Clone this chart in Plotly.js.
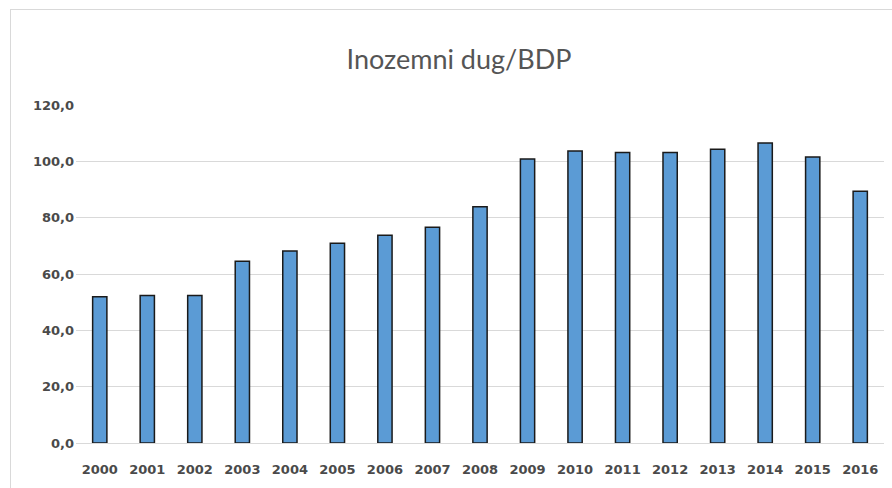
<!DOCTYPE html>
<html>
<head>
<meta charset="utf-8">
<script src="https://cdn.plot.ly/plotly-3.0.1.min.js"></script>
<style>
html,body{margin:0;padding:0;background:#fff;}
#wrap{position:relative;width:892px;height:488px;}
#chart{width:892px;height:488px;}
#frame{position:absolute;left:10px;top:9px;right:-2px;bottom:-2px;border-left:1px solid #d9d9d9;border-top:1px solid #d9d9d9;pointer-events:none;}
</style>
</head>
<body>
<div id="wrap"><div id="chart"></div><div id="frame"></div></div>
<script>
const years = ['2000','2001','2002','2003','2004','2005','2006','2007','2008','2009','2010','2011','2012','2013','2014','2015','2016'];
const values = [51.9, 52.4, 52.4, 64.5, 68.2, 70.9, 73.8, 76.6, 83.9, 100.8, 103.7, 103.1, 103.1, 104.3, 106.5, 101.5, 89.4];
const chartTitle = 'Inozemni dug/BDP';
const yTicks = [0, 20, 40, 60, 80, 100, 120];

const tickFont = {family: '"DejaVu Sans", sans-serif', size: 13, color: '#4a4a4a', weight: 'bold'};
Plotly.newPlot('chart', [{
  type: 'bar',
  x: years,
  y: values,
  marker: {color: '#5B9BD5', line: {color: '#1a1a1a', width: 1.5}},
  hoverinfo: 'x+y'
}], {
  width: 892, height: 488,
  margin: {l: 76, r: 8, t: 105, b: 45},
  paper_bgcolor: '#ffffff', plot_bgcolor: '#ffffff',
  separators: ',.',
  bargap: 0.7,
  showlegend: false,
  title: {text: chartTitle, x: 0.5146, xref: 'container', y: 0.877, yref: 'container', yanchor: 'middle',
          font: {family: 'Lato, "Open Sans", sans-serif', size: 27, color: '#555555'}},
  xaxis: {type: 'category', showgrid: false, showline: false, ticks: '', zeroline: false,
          ticklabelstandoff: 17,
          tickfont: tickFont},
  yaxis: {range: [0, 120], tickvals: yTicks, tickformat: '.1f', showgrid: true, gridcolor: '#d9d9d9', gridwidth: 1,
          zeroline: true, zerolinecolor: '#d9d9d9', zerolinewidth: 1, showline: false, ticks: '',
          ticklabelstandoff: 1,
          tickfont: tickFont}
}, {displayModeBar: false, staticPlot: true});
</script>
</body>
</html>
